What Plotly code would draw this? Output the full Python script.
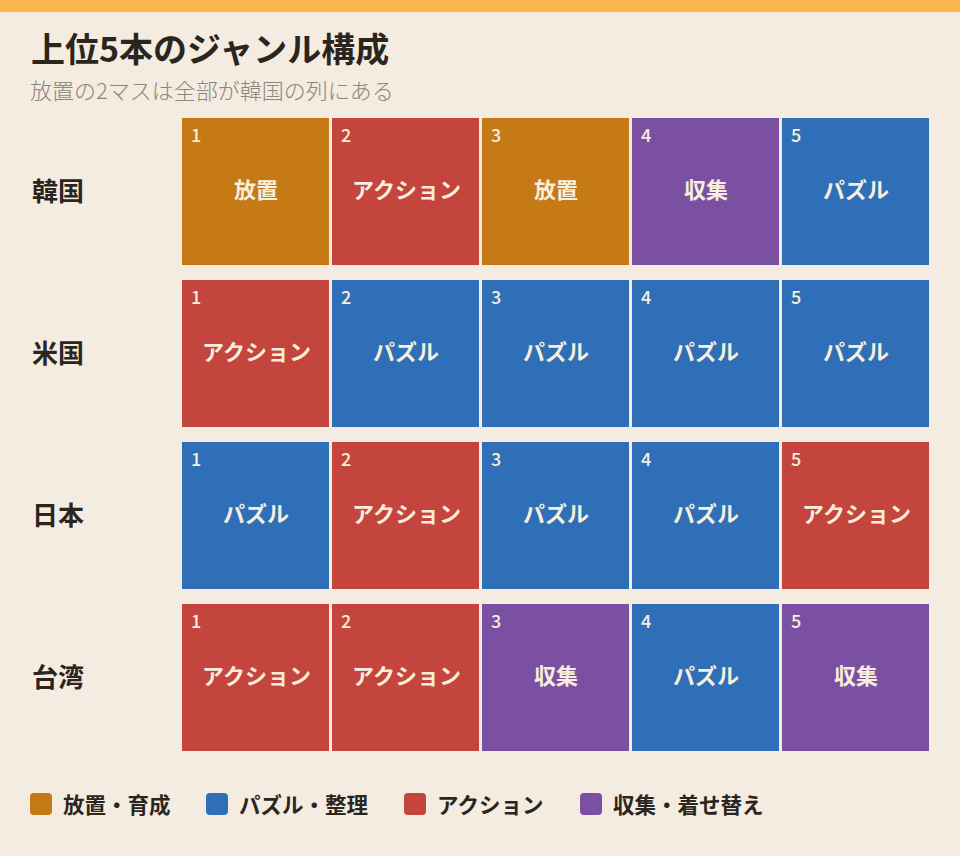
import plotly.graph_objects as go

# ---- data ----
countries = ["韓国", "米国", "日本", "台湾"]
ranks = [1, 2, 3, 4, 5]
genres = ["放置・育成", "パズル・整理", "アクション", "収集・着せ替え"]
short_labels = ["放置", "パズル", "アクション", "収集"]
genre_colors = ["#C57A15", "#2F6FB7", "#C3453D", "#7B4FA1"]

korea = ["放置", "アクション", "放置", "収集", "パズル"]
usa = ["アクション", "パズル", "パズル", "パズル", "パズル"]
japan = ["パズル", "アクション", "パズル", "パズル", "アクション"]
taiwan = ["アクション", "アクション", "収集", "パズル", "収集"]
rows = [korea, usa, japan, taiwan]

# ---- build ----
z = [[short_labels.index(v) for v in row] for row in rows]
n = len(genres)
cs = []
for i, c in enumerate(genre_colors):
    cs.append([i / n, c])
    cs.append([(i + 1) / n, c])

FONT = "Noto Sans CJK JP"
BG = "#F4ECE0"
DARK = "#2B2520"
CREAM = "#F7EEDD"

L, R, T, B = 181, 29, 111, 97
W, H = 960 - L - R, 856 - T - B


def px_x(p):
    return (p - L) / W


def px_y(p):
    return 1 - (p - T) / H


fig = go.Figure(
    go.Heatmap(
        x=ranks,
        y=countries,
        z=z,
        zmin=-0.5,
        zmax=n - 0.5,
        colorscale=cs,
        showscale=False,
        xgap=3,
        ygap=15,
        hoverinfo="skip",
    )
)

annotations = []
for ci, c in enumerate(countries):
    for r, lab in zip(ranks, rows[ci]):
        annotations.append(
            dict(
                x=r - 0.5, y=c, xref="x", yref="y",
                text=str(r), showarrow=False,
                xanchor="left", yanchor="middle",
                xshift=8, yshift=58,
                font=dict(family=FONT, size=18, color=CREAM, weight=500),
            )
        )
        annotations.append(
            dict(
                x=r, y=c, xref="x", yref="y",
                text=lab, showarrow=False,
                xanchor="center", yanchor="middle",
                yshift=4,
                font=dict(family=FONT, size=22, color=CREAM, weight="bold"),
            )
        )

# subtitle
annotations.append(
    dict(
        x=px_x(28), y=px_y(89), xref="paper", yref="paper",
        text="放置の2マスは全部が韓国の列にある", showarrow=False,
        xanchor="left", yanchor="middle",
        font=dict(family=FONT, size=22, color="#8C857D", weight=300),
    )
)

shapes = [
    dict(type="rect", xref="paper", yref="paper",
         x0=px_x(-10), x1=px_x(970), y0=px_y(0), y1=px_y(12),
         fillcolor="#FDB44B", line=dict(width=0), layer="below"),
]

legend_sw_x = [41, 217, 415, 591]
legend_txt_x = [61, 237, 435, 611]
leg_y = 804
rr = "M -7,-11 L 7,-11 Q 11,-11 11,-7 L 11,7 Q 11,11 7,11 L -7,11 Q -11,11 -11,7 L -11,-7 Q -11,-11 -7,-11 Z"
for g, col, sx, tx in zip(genres, genre_colors, legend_sw_x, legend_txt_x):
    shapes.append(
        dict(type="path", xref="paper", yref="paper",
             xsizemode="pixel", ysizemode="pixel",
             xanchor=px_x(sx), yanchor=px_y(leg_y),
             path=rr, fillcolor=col, line=dict(width=0))
    )
    annotations.append(
        dict(x=px_x(tx), y=px_y(leg_y - 1), xref="paper", yref="paper",
             text=g, showarrow=False, xanchor="left", yanchor="middle",
             font=dict(family=FONT, size=21.5, color=DARK, weight="bold"))
    )

fig.update_layout(
    width=960,
    height=856,
    paper_bgcolor=BG,
    plot_bgcolor=BG,
    margin=dict(l=L, r=R, t=T, b=B),
    title=dict(
        text="上位5本のジャンル構成",
        xref="container", yref="container",
        x=31 / 960, y=1 - 50 / 856,
        xanchor="left", yanchor="middle",
        font=dict(family=FONT, size=34, color=DARK, weight="bold"),
    ),
    xaxis=dict(range=[0.5, 5.5], visible=False, fixedrange=True),
    yaxis=dict(
        autorange="reversed", showgrid=False, zeroline=False,
        showline=False, ticks="", ticklabelstandoff=96,
        tickfont=dict(family=FONT, size=26, color=DARK, weight="bold"),
        fixedrange=True,
    ),
    annotations=annotations,
    shapes=shapes,
    showlegend=False,
)

fig.write_html(
    "out.html",
    config={"displayModeBar": False},
    post_script="document.body.style.margin='0';",
)
